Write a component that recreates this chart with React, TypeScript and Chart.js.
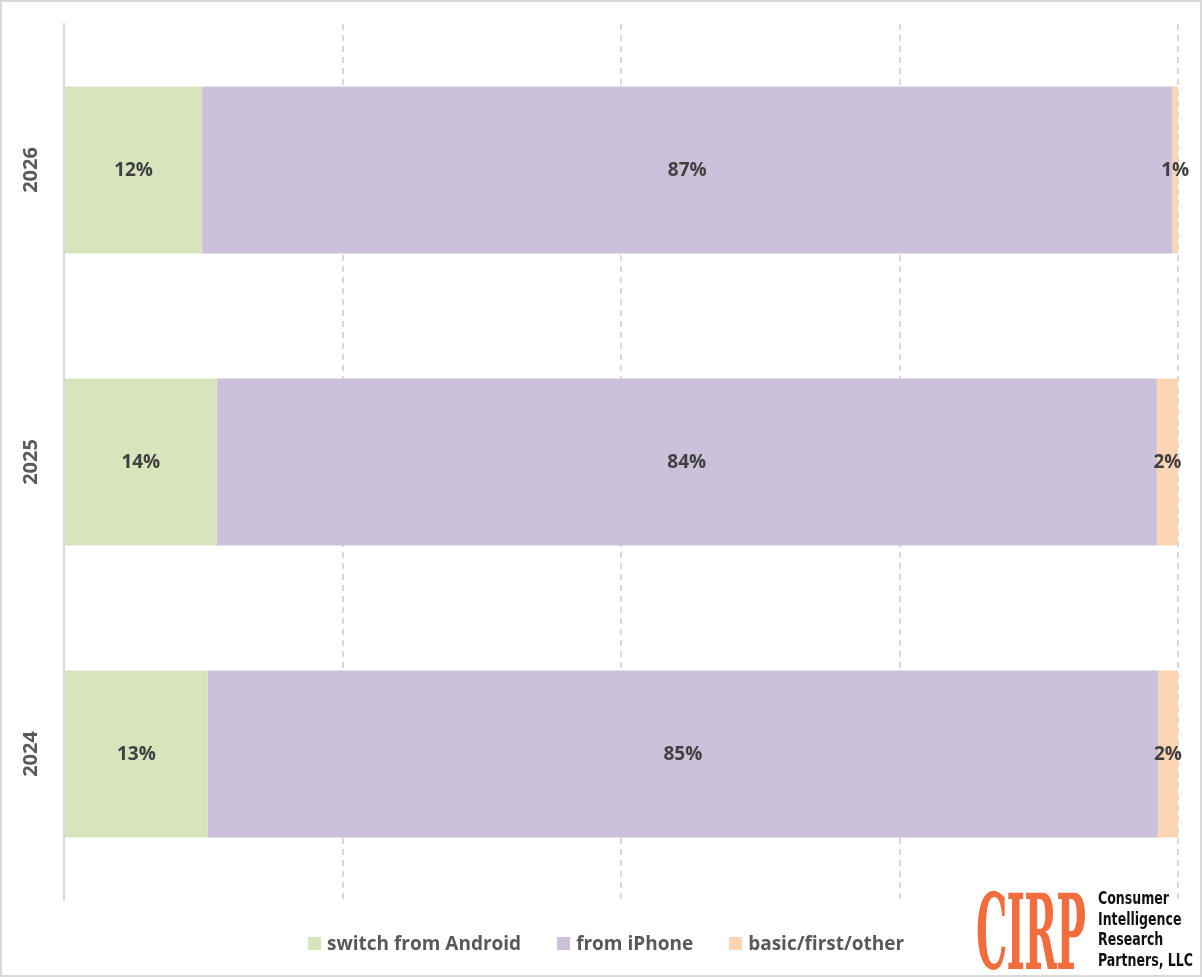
import React, { useEffect, useRef } from "react";
import Chart from "chart.js/auto";

const years = ["2026", "2025", "2024"];
const switchFromAndroid = [12.4, 13.7, 12.9];
const fromIPhone = [87.1, 84.4, 85.3];
const basicFirstOther = [0.5, 1.9, 1.8];
const xTicks = [0, 25, 50, 75, 100];

const seriesNames = ["switch from Android", "from iPhone", "basic/first/other"];
const seriesColors = ["#d8e4bc", "#ccc1da", "#fcd5b5"];

const FONT = "'Open Sans', Lato, sans-serif";

const yLabelPlugin = {
  id: "yLabels",
  afterDraw(chart: any) {
    const { ctx, scales, chartArea } = chart;
    const scale = scales.y;
    ctx.save();
    ctx.fillStyle = "#595959";
    ctx.font = `bold 20px ${FONT}`;
    ctx.textAlign = "center";
    ctx.textBaseline = "middle";
    scale.ticks.forEach((t: any, i: number) => {
      const y = scale.getPixelForTick(i);
      ctx.save();
      ctx.translate(chartArea.left - 33, y);
      ctx.rotate(-Math.PI / 2);
      ctx.fillText(scale.getLabelForValue(t.value), 0, 0);
      ctx.restore();
    });
    ctx.restore();
  },
};

const valueLabelPlugin = {
  id: "valueLabels",
  afterDatasetsDraw(chart: any) {
    const { ctx } = chart;
    ctx.save();
    ctx.fillStyle = "#404040";
    ctx.font = `bold 19px ${FONT}`;
    ctx.textAlign = "center";
    ctx.textBaseline = "middle";
    chart.data.datasets.forEach((ds: any, di: number) => {
      const meta = chart.getDatasetMeta(di);
      meta.data.forEach((el: any, i: number) => {
        const c = el.getCenterPoint();
        ctx.fillText(Math.round(ds.data[i]) + "%", c.x, c.y + 1);
      });
    });
    ctx.restore();
  },
};

function StackedBars() {
  const canvasRef = useRef<HTMLCanvasElement>(null);

  useEffect(() => {
    const chart = new Chart(canvasRef.current as HTMLCanvasElement, {
      type: "bar",
      data: {
        labels: years,
        datasets: [switchFromAndroid, fromIPhone, basicFirstOther].map((d, i) => ({
          label: seriesNames[i],
          data: d,
          backgroundColor: seriesColors[i],
          borderWidth: 0,
          barPercentage: 0.572,
          categoryPercentage: 1,
        })),
      },
      options: {
        indexAxis: "y",
        animation: false,
        responsive: true,
        maintainAspectRatio: false,
        layout: { padding: { left: 56, right: 24, top: 24, bottom: 77 } },
        plugins: {
          legend: { display: false },
          tooltip: { enabled: false },
        },
        scales: {
          x: {
            stacked: true,
            min: xTicks[0],
            max: xTicks[xTicks.length - 1],
            afterBuildTicks: (axis: any) => {
              axis.ticks = xTicks.map((v) => ({ value: v }));
            },
            ticks: { display: false },
            grid: {
              drawTicks: false,
              lineWidth: 2,
              color: (ctx: any) => (ctx.index === 0 ? "rgba(0,0,0,0)" : "#d9d9d9"),
            },
            border: { display: false, dash: [6, 5] },
          },
          y: {
            stacked: true,
            ticks: { display: false },
            grid: { display: false },
            border: { display: true, color: "#d9d9d9", width: 2 },
          },
        },
      },
      plugins: [yLabelPlugin, valueLabelPlugin],
    });
    return () => chart.destroy();
  }, []);

  return <canvas ref={canvasRef} />;
}

export default function App() {
  const lineStyle: React.CSSProperties = {
    fontFamily: "'DejaVu Sans Condensed', 'DejaVu Sans', sans-serif",
    fontWeight: "bold",
    fontSize: 18.5,
    lineHeight: "20.7px",
    color: "#111",
    whiteSpace: "nowrap",
    transform: "scaleX(0.755)",
    transformOrigin: "left center",
  };
  return (
    <div
      style={{
        position: "absolute",
        left: 0,
        top: 0,
        width: 1202,
        height: 977,
        background: "#fff",
        overflow: "hidden",
      }}
    >
      <div style={{ position: "absolute", left: 0, top: 0, width: 1202, height: 977 }}>
        <StackedBars />
      </div>
      <div
        style={{
          position: "absolute",
          left: 0,
          top: 0,
          width: 1202,
          height: 977,
          boxSizing: "border-box",
          border: "2px solid #d9d9d9",
          pointerEvents: "none",
        }}
      />
      {/* legend */}
      <div
        style={{
          position: "absolute",
          left: 308,
          top: 929,
          display: "flex",
          fontFamily: FONT,
          fontWeight: "bold",
          fontSize: 19,
          lineHeight: "28px",
          color: "#595959",
        }}
      >
        {seriesNames.map((name, i) => (
          <div
            key={name}
            style={{ display: "flex", alignItems: "center", marginRight: i < 2 ? 36 : 0 }}
          >
            <span
              style={{
                display: "inline-block",
                width: 13,
                height: 13,
                background: seriesColors[i],
                marginRight: 6,
              }}
            />
            <span>{name}</span>
          </div>
        ))}
      </div>
      {/* logo */}
      <div
        style={{
          position: "absolute",
          left: 976,
          top: 880,
          fontFamily: "'DejaVu Serif Condensed', 'DejaVu Serif', serif",
          fontWeight: "bold",
          fontSize: 105,
          lineHeight: "105px",
          color: "#f26d3d",
          transform: "scaleX(0.418)",
          transformOrigin: "left top",
          letterSpacing: -2,
        }}
      >
        CIRP
      </div>
      <div style={{ position: "absolute", left: 1098, top: 888 }}>
        <div style={lineStyle}>Consumer</div>
        <div style={lineStyle}>Intelligence</div>
        <div style={lineStyle}>Research</div>
        <div style={lineStyle}>Partners, LLC</div>
      </div>
    </div>
  );
}
